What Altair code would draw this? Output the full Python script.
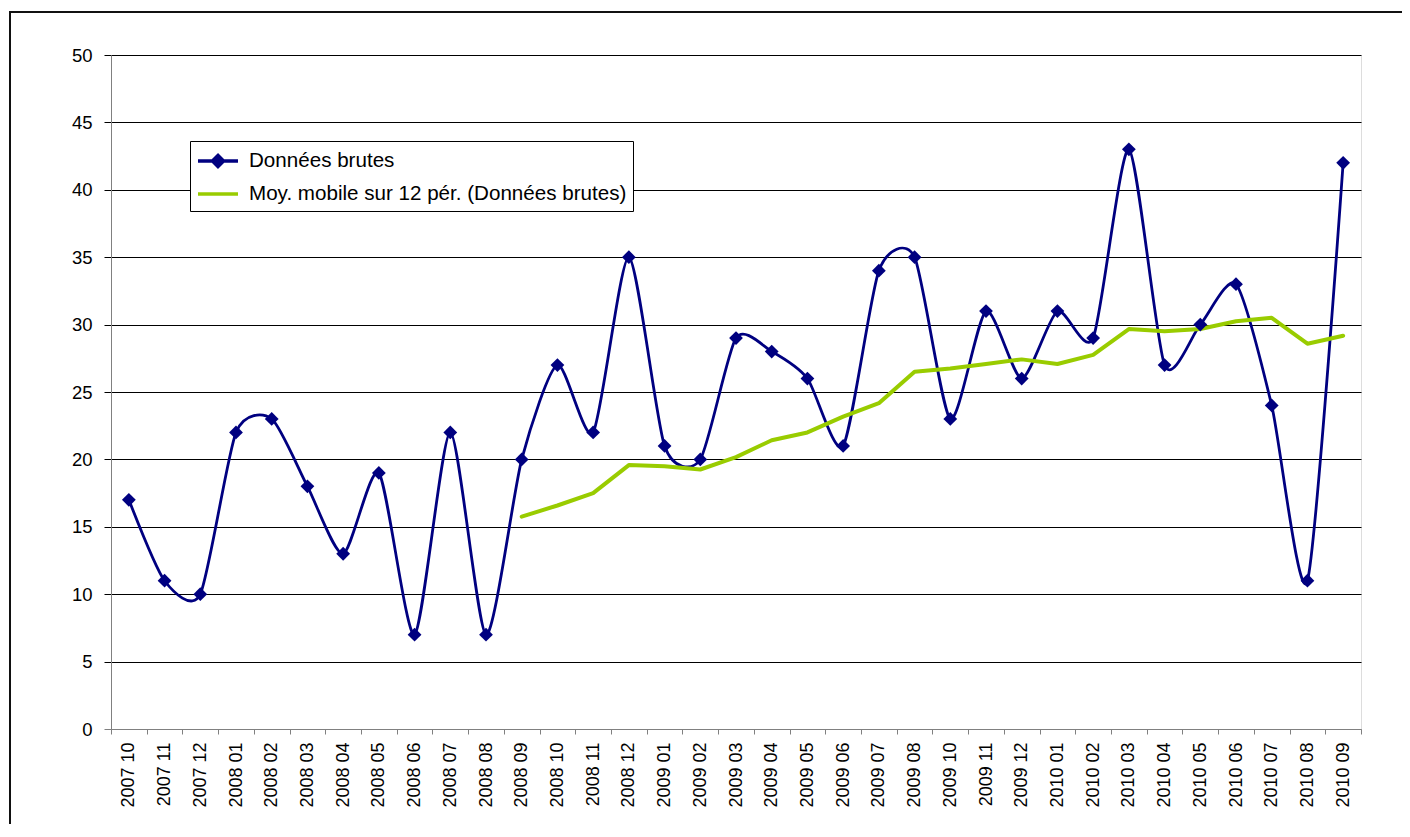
import altair as alt
import pandas as pd

months = ["2007 10", "2007 11", "2007 12",
          "2008 01", "2008 02", "2008 03", "2008 04", "2008 05", "2008 06",
          "2008 07", "2008 08", "2008 09", "2008 10", "2008 11", "2008 12",
          "2009 01", "2009 02", "2009 03", "2009 04", "2009 05", "2009 06",
          "2009 07", "2009 08", "2009 10", "2009 11", "2009 12",
          "2010 01", "2010 02", "2010 03", "2010 04", "2010 05", "2010 06",
          "2010 07", "2010 08", "2010 09"]

raw = [17, 11, 10, 22, 23, 18, 13, 19, 7, 22, 7, 20, 27, 22, 35, 21, 20, 29,
       28, 26, 21, 34, 35, 23, 31, 26, 31, 29, 43, 27, 30, 33, 24, 11, 42]

ma_months = months[11:]
ma = [15.75, 16.58, 17.5, 19.58, 19.5, 19.25, 20.17, 21.42, 22.0, 23.17,
      24.17, 26.5, 26.75, 27.08, 27.42, 27.08, 27.75, 29.67, 29.5, 29.67,
      30.25, 30.5, 28.58, 29.17]

series_names = ["Données brutes", "Moy. mobile sur 12 pér. (Données brutes)"]
y_ticks = [0, 5, 10, 15, 20, 25, 30, 35, 40, 45, 50]

NAVY = "#000080"
GREEN = "#99CC00"
FONT = "Liberation Sans"

df_raw = pd.DataFrame({"mois": months, "valeur": raw})
df_ma = pd.DataFrame({"mois": ma_months, "valeur": ma})
df_leg = pd.DataFrame({"serie": series_names})

x_enc = alt.X(
    "mois:N",
    sort=months,
    bandPosition=0.5,
    scale=alt.Scale(type="band", domain=months, paddingInner=0, paddingOuter=0),
    axis=alt.Axis(
        title=None, tickBand="extent", labelAngle=-90, tickSize=5,
        tickColor="#808080", domainColor="#808080", labelPadding=8,
        grid=False, labelFontSize=18, labelFont=FONT, labelColor="black",
    ),
)
y_enc = alt.Y(
    "valeur:Q",
    scale=alt.Scale(domain=[0, 50], nice=False),
    axis=alt.Axis(
        title=None, values=y_ticks, grid=True,
        gridColor={"condition": {"test": "datum.value === 0", "value": "#808080"}, "value": "black"},
        tickColor={"condition": {"test": "datum.value === 0", "value": "#808080"}, "value": "black"},
        gridWidth=1, domainColor="#808080", tickSize=7, labelPadding=12,
        labelFontSize=18.5, labelFont=FONT, labelColor="black",
    ),
)

frame = alt.Chart(alt.Data(values=[{"a": 1}])).mark_rect(
    fill=None, stroke="#111111", strokeWidth=2
).encode(
    x=alt.value(-101), x2=alt.value(3000), y=alt.value(-43), y2=alt.value(3000)
)

raw_line = alt.Chart(df_raw).mark_line(
    interpolate="cardinal", tension=0.3, color=NAVY, strokeWidth=2.8
).encode(x=x_enc, y=y_enc)

raw_pts = alt.Chart(df_raw).mark_point(
    shape="diamond", filled=True, color=NAVY, size=190, opacity=1
).encode(x=x_enc, y=y_enc)

ma_line = alt.Chart(df_ma).mark_line(
    color=GREEN, strokeWidth=4, strokeCap="round", strokeJoin="round"
).encode(x=x_enc, y=y_enc)

leg = alt.Legend(
    title=None, orient="none", legendX=79, legendY=86,
    strokeColor="black", fillColor="white", padding=6, cornerRadius=0,
    labelFontSize=20.6, labelFont=FONT, labelColor="black", labelLimit=900,
    symbolSize=576, labelOffset=25, rowPadding=6, symbolStrokeWidth=3.5,
)
diamond_path = "M-1,0H2.333M0.207,0L0.667,-0.46L1.127,0L0.667,0.46Z"
line_path = "M-1,0H2.333"

legend_layer = alt.Chart(df_leg).transform_filter("false").mark_point(
    filled=True, opacity=1
).encode(
    fill=alt.Fill("serie:N", scale=alt.Scale(domain=series_names, range=[NAVY, GREEN]), legend=leg),
    stroke=alt.Stroke("serie:N", scale=alt.Scale(domain=series_names, range=[NAVY, GREEN]), legend=leg),
    shape=alt.Shape("serie:N", scale=alt.Scale(domain=series_names, range=[diamond_path, line_path]), legend=leg),
)

chart = alt.layer(frame, raw_line, ma_line, raw_pts, legend_layer).properties(
    width=1250, height=674,
    autosize=alt.AutoSizeParams(type="none"),
    padding={"left": 103, "top": 47, "right": 41, "bottom": 95},
).configure_view(stroke=None).configure(background="white")

chart.save("out.html", embed_options={"renderer": "svg", "actions": False})
